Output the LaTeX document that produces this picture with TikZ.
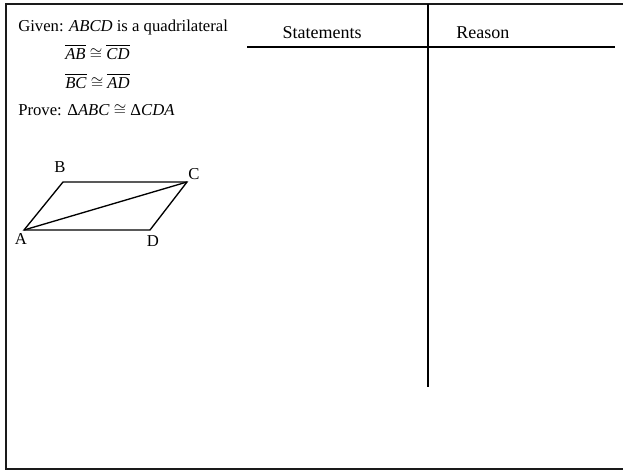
\documentclass[tikz,border=0pt]{standalone}
\usepackage{amsmath,amssymb}
\usepackage{fontspec}
\setmainfont{Liberation Serif}
\usetikzlibrary{calc,positioning}
\definecolor{ink}{HTML}{000000}
\definecolor{frame}{HTML}{1A1A1A}
\newcommand{\seg}[1]{$\overline{\mbox{\textit{#1}}}$}

\begin{document}
\begin{tikzpicture}[x=0.75pt,y=-0.75pt,line cap=butt]
\useasboundingbox (0,0) rectangle (623,471);
% frame
\draw[line width=1.6pt,frame] (623,4) -- (6,4) -- (6,469) -- (623,469);
% given / prove
\node[anchor=base west,inner sep=0pt,font=\fontsize{12.5}{15}\selectfont] (given) at (18,31) {Given: \textit{ABCD} is a quadrilateral};
\node[anchor=base west,inner sep=0pt,font=\fontsize{12.5}{15}\selectfont] (g1) at (65,59) {\seg{AB} $\cong$ \seg{CD}};
\node[anchor=base west,inner sep=0pt,font=\fontsize{12.5}{15}\selectfont] (g2) at (65,88) {\seg{BC} $\cong$ \seg{AD}};
\node[anchor=base west,inner sep=0pt,font=\fontsize{12.5}{15}\selectfont] (prove) at (18,115) {Prove: Δ\textit{ABC} $\cong$ Δ\textit{CDA}};
% parallelogram
\coordinate (A) at (24,230);
\coordinate (B) at (63,182);
\coordinate (C) at (187,182);
\coordinate (D) at (150,230);
\draw[line width=1pt,ink,line join=miter] (A) -- (B) -- (C) -- (D) -- cycle;
\draw[line width=1pt,ink] (A) -- (C);
\node[font=\fontsize{12.5}{15}\selectfont,inner sep=0pt] (la) at (21,239) {A};
\node[font=\fontsize{12.5}{15}\selectfont,inner sep=0pt] (lb) at (60,167) {B};
\node[font=\fontsize{12.5}{15}\selectfont,inner sep=0pt] (lc) at (194,174) {C};
\node[font=\fontsize{12.5}{15}\selectfont,inner sep=0pt] (ld) at (153,241) {D};
% table
\coordinate (hl) at (247,47);
\coordinate (hr) at (615,47);
\coordinate (vt) at (428,4);
\coordinate (vb) at (428,387);
\draw[line width=1.6pt,ink] (hl) -- (hr);
\draw[line width=1.6pt,ink] (vt) -- (vb);
\node[anchor=base,inner sep=0pt,font=\fontsize{13.5}{16}\selectfont] (stmt) at (322,38) {Statements};
\node[anchor=base west,inner sep=0pt,font=\fontsize{13.5}{16}\selectfont] (rsn) at (456,38) {Reason};
\end{tikzpicture}
\end{document}
